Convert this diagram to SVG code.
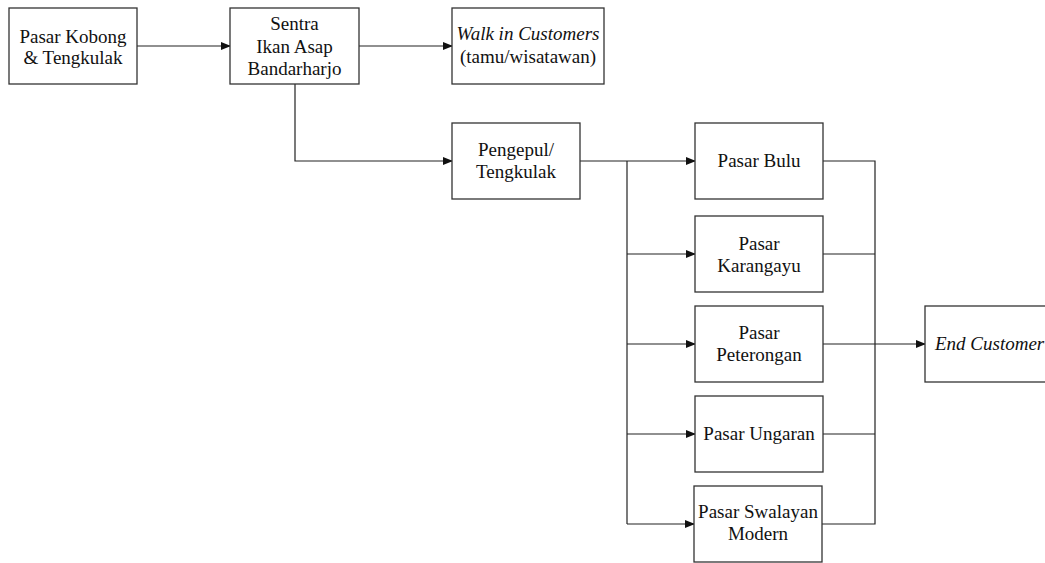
<svg xmlns="http://www.w3.org/2000/svg" width="1045" height="563" viewBox="0 0 1045 563">
<style>
.box{fill:#fff;stroke:#333;stroke-width:1.3}
.t{font-family:"Liberation Serif","Times New Roman",serif;font-size:19px;fill:#111;text-anchor:middle}
.i{font-style:italic}
.c{fill:none;stroke:#222;stroke-width:1.2}
</style>
<defs>
<marker id="ah" markerWidth="10" markerHeight="8" refX="9" refY="4" orient="auto" markerUnits="userSpaceOnUse">
<path d="M0,0 L10,4 L0,8 Z" fill="#111"/>
</marker>
</defs>
<rect width="1045" height="563" fill="#fff"/>
<g id="connectors">
<line class="c" x1="137" y1="46" x2="230" y2="46" marker-end="url(#ah)"/>
<line class="c" x1="359" y1="46" x2="452" y2="46" marker-end="url(#ah)"/>
<polyline class="c" points="295,84 295,161 452,161" marker-end="url(#ah)"/>
<line class="c" x1="580" y1="161" x2="695" y2="161" marker-end="url(#ah)"/>
<line class="c" x1="627" y1="161" x2="627" y2="524"/>
<line class="c" x1="627" y1="254" x2="695" y2="254" marker-end="url(#ah)"/>
<line class="c" x1="627" y1="344" x2="695" y2="344" marker-end="url(#ah)"/>
<line class="c" x1="627" y1="434" x2="695" y2="434" marker-end="url(#ah)"/>
<line class="c" x1="627" y1="524" x2="694" y2="524" marker-end="url(#ah)"/>
<polyline class="c" points="823,161 875,161 875,524 822,524"/>
<line class="c" x1="823" y1="254" x2="875" y2="254"/>
<line class="c" x1="823" y1="434" x2="875" y2="434"/>
<line class="c" x1="823" y1="344" x2="925" y2="344" marker-end="url(#ah)"/>
</g>
<g id="pasar-kobong">
<rect class="box" x="9" y="8" width="128" height="76"/>
<text class="t" x="73" y="43">Pasar Kobong</text>
<text class="t" x="73" y="64">&amp; Tengkulak</text>
</g>
<g id="sentra">
<rect class="box" x="230" y="8" width="129" height="76"/>
<text class="t" x="294.5" y="30">Sentra</text>
<text class="t" x="294.5" y="53">Ikan Asap</text>
<text class="t" x="294.5" y="75">Bandarharjo</text>
</g>
<g id="walk-in">
<rect class="box" x="452" y="8" width="152" height="76"/>
<text class="t i" x="528" y="40">Walk in Customers</text>
<text class="t" x="528" y="63">(tamu/wisatawan)</text>
</g>
<g id="pengepul">
<rect class="box" x="452" y="123" width="128" height="76"/>
<text class="t" x="516" y="156">Pengepul/</text>
<text class="t" x="516" y="178">Tengkulak</text>
</g>
<g id="pasar-bulu">
<rect class="box" x="695" y="123" width="128" height="76"/>
<text class="t" x="759" y="167">Pasar Bulu</text>
</g>
<g id="pasar-karangayu">
<rect class="box" x="695" y="216" width="128" height="76"/>
<text class="t" x="759" y="250">Pasar</text>
<text class="t" x="759" y="272">Karangayu</text>
</g>
<g id="pasar-peterongan">
<rect class="box" x="695" y="306" width="128" height="76"/>
<text class="t" x="759" y="339">Pasar</text>
<text class="t" x="759" y="361">Peterongan</text>
</g>
<g id="pasar-ungaran">
<rect class="box" x="695" y="396" width="128" height="76"/>
<text class="t" x="759" y="440">Pasar Ungaran</text>
</g>
<g id="pasar-swalayan">
<rect class="box" x="694" y="486" width="128" height="76"/>
<text class="t" x="758" y="518">Pasar Swalayan</text>
<text class="t" x="758" y="540">Modern</text>
</g>
<g id="end-customer">
<rect class="box" x="925" y="306" width="130" height="76"/>
<text class="t i" x="935" y="350" style="text-anchor:start">End Customer</text>
</g>
</svg>
